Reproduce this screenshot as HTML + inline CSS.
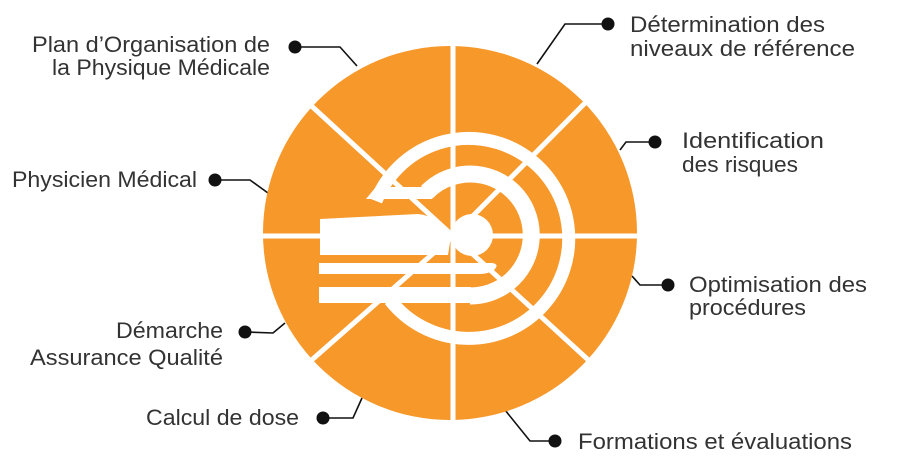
<!DOCTYPE html>
<html><head><meta charset="utf-8"><style>
html,body{margin:0;padding:0;background:#fff;}
svg{display:block}
text{font-family:"Liberation Sans",sans-serif;font-size:22px;fill:#333;}
</style></head><body>
<svg width="900" height="469" viewBox="0 0 900 469">
<g stroke="#111" stroke-width="1.6" fill="none">
<polyline points="295,47 340,47 357,66"/>
<polyline points="608,24 565,24 537,64"/>
<polyline points="655,142 626,142 620,150"/>
<polyline points="215,180 250,180 268,193"/>
<polyline points="668,285 640,285 632,276"/>
<polyline points="245,332 273,333 285,323"/>
<polyline points="323,418 353,418 362,398"/>
<polyline points="555,441 530,441 505,410"/>
</g>
<g fill="#111">
<circle cx="295" cy="47" r="6.5"/><circle cx="608" cy="24" r="6.5"/>
<circle cx="655" cy="142" r="6.5"/><circle cx="215" cy="180" r="6.5"/>
<circle cx="668" cy="285" r="6.5"/><circle cx="245" cy="332" r="6.5"/>
<circle cx="323" cy="418" r="6.5"/><circle cx="555" cy="441" r="6.5"/>
</g>
<circle cx="450" cy="233" r="187" fill="#f7982b"/>
<g stroke="#fff" stroke-width="5">
<line x1="453" y1="40" x2="453" y2="425"/>
<line x1="255" y1="236" x2="645" y2="236"/>
<line x1="305" y1="100" x2="453" y2="236"/>
<line x1="592" y1="96" x2="453" y2="236"/>
<line x1="596" y1="367" x2="453" y2="236"/>
<line x1="306" y1="365" x2="453" y2="236"/>
</g>
<g fill="none" stroke="#fff">
<path d="M376,201 A100,100 0 1 1 390,300" stroke-width="13"/>
<path d="M427,192 A61,61 0 1 1 470,296" stroke-width="17"/>
</g>
<g fill="#fff">
<polygon points="366,199 380,182 380,187 440,187 432,199"/>
<rect x="319" y="287" width="152" height="16"/>
<path d="M319,263 L492,263 Q500,264 494,270 Q488,274 480,274 L319,274 Z"/>
<path d="M320,219 L418,214 Q438,216 451,236 L448,255 L320,255 Z"/>
<circle cx="472" cy="235" r="21"/>
</g>
<g>
<text x="270" y="52" text-anchor="end" textLength="238" lengthAdjust="spacingAndGlyphs">Plan d’Organisation de</text>
<text x="270" y="75" text-anchor="end" textLength="218" lengthAdjust="spacingAndGlyphs">la Physique Médicale</text>
<text x="12" y="187" textLength="185" lengthAdjust="spacingAndGlyphs">Physicien Médical</text>
<text x="223" y="338" text-anchor="end" textLength="107" lengthAdjust="spacingAndGlyphs">Démarche</text>
<text x="223" y="365" text-anchor="end" textLength="193" lengthAdjust="spacingAndGlyphs">Assurance Qualité</text>
<text x="146" y="425" textLength="153" lengthAdjust="spacingAndGlyphs">Calcul de dose</text>
<text x="630" y="32" textLength="195" lengthAdjust="spacingAndGlyphs">Détermination des</text>
<text x="630" y="56" textLength="225" lengthAdjust="spacingAndGlyphs">niveaux de référence</text>
<text x="682" y="148" textLength="142" lengthAdjust="spacingAndGlyphs">Identification</text>
<text x="682" y="172" textLength="116" lengthAdjust="spacingAndGlyphs">des risques</text>
<text x="689" y="292" textLength="178" lengthAdjust="spacingAndGlyphs">Optimisation des</text>
<text x="689" y="315" textLength="117" lengthAdjust="spacingAndGlyphs">procédures</text>
<text x="578" y="449" textLength="274" lengthAdjust="spacingAndGlyphs">Formations et évaluations</text>
</g>
</svg>
</body></html>
